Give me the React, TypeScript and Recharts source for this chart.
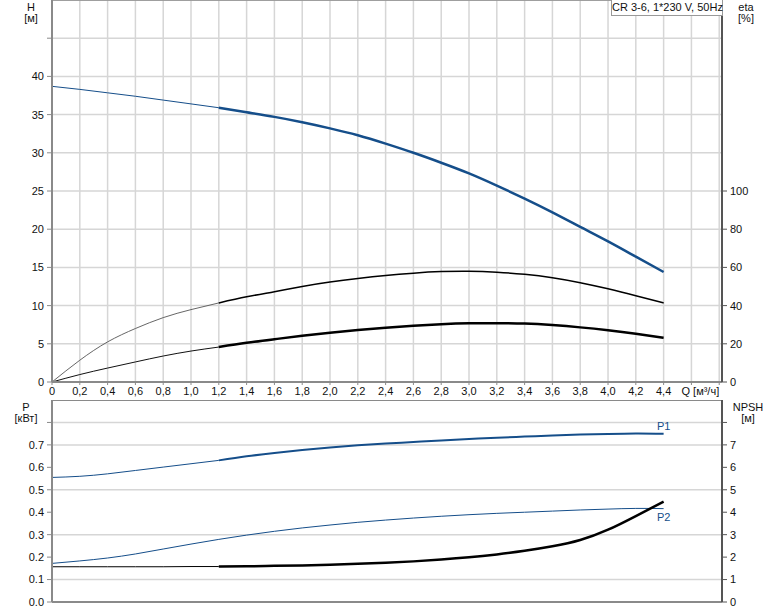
import { LineChart, Line, XAxis, YAxis, CartesianGrid, ReferenceLine } from 'recharts';

// flow rate, m³/h
const Q = [0, 0.2, 0.4, 0.6, 0.8, 1.0, 1.2, 1.4, 1.6, 1.8, 2.0, 2.2, 2.4, 2.6, 2.8, 3.0, 3.2, 3.4, 3.6, 3.8, 4.0, 4.2, 4.4];

// head, m
const HEAD = [38.7, 38.3, 37.85, 37.4, 36.9, 36.4, 35.9, 35.3, 34.7, 34.0, 33.2, 32.3, 31.2, 30.0, 28.7, 27.3, 25.7, 24.0, 22.2, 20.3, 18.4, 16.4, 14.4];

// efficiency, %
const ETA_PUMP = [0, 11.4, 21, 28, 33.7, 37.9, 41.4, 44.6, 47.3, 50.0, 52.3, 54.2, 55.8, 57.0, 57.8, 58.0, 57.5, 56.4, 54.6, 52.0, 48.8, 45.2, 41.4];
const ETA_TOTAL = [0, 3.9, 7.3, 10.5, 13.6, 16.2, 18.3, 20.5, 22.4, 24.2, 25.8, 27.2, 28.4, 29.4, 30.2, 30.7, 30.8, 30.6, 29.8, 28.6, 27.1, 25.3, 23.2];

// power, kW
const P1 = [0.555, 0.56, 0.571, 0.586, 0.601, 0.616, 0.631, 0.649, 0.664, 0.677, 0.688, 0.698, 0.706, 0.713, 0.72, 0.726, 0.732, 0.737, 0.742, 0.746, 0.749, 0.751, 0.75];
const P2 = [0.172, 0.183, 0.196, 0.214, 0.236, 0.258, 0.279, 0.298, 0.315, 0.33, 0.343, 0.355, 0.365, 0.374, 0.382, 0.389, 0.395, 0.4, 0.405, 0.41, 0.414, 0.417, 0.416];

// NPSH, m
const NPSH = [1.57, 1.57, 1.57, 1.57, 1.57, 1.58, 1.58, 1.59, 1.61, 1.63, 1.66, 1.7, 1.75, 1.81, 1.89, 1.99, 2.12, 2.28, 2.48, 2.76, 3.22, 3.83, 4.47];

const Q_TICKS = [0, 0.2, 0.4, 0.6, 0.8, 1.0, 1.2, 1.4, 1.6, 1.8, 2.0, 2.2, 2.4, 2.6, 2.8, 3.0, 3.2, 3.4, 3.6, 3.8, 4.0, 4.2, 4.4, 4.6, 4.8];
const H_TICKS = [0, 5, 10, 15, 20, 25, 30, 35, 40, 45];
const ETA_TICKS = [0, 20, 40, 60, 80, 100];
const P_TICKS = [0, 0.1, 0.2, 0.3, 0.4, 0.5, 0.6, 0.7, 0.8];
const NPSH_TICKS = [0, 1, 2, 3, 4, 5, 6, 7, 8];

const SPLIT_Q = 1.2; // duty range starts here, curves get thicker
const Q_MAX_LABEL = 4.4;

const rows = Q.map((q, i) => ({
  q,
  hLo: q <= SPLIT_Q ? HEAD[i] : null,
  hHi: q >= SPLIT_Q ? HEAD[i] : null,
  etaPLo: q <= SPLIT_Q ? ETA_PUMP[i] : null,
  etaPHi: q >= SPLIT_Q ? ETA_PUMP[i] : null,
  etaTLo: q <= SPLIT_Q ? ETA_TOTAL[i] : null,
  etaTHi: q >= SPLIT_Q ? ETA_TOTAL[i] : null,
  p1Lo: q <= SPLIT_Q ? P1[i] : null,
  p1Hi: q >= SPLIT_Q ? P1[i] : null,
  p2: P2[i],
  npshLo: q <= SPLIT_Q ? NPSH[i] : null,
  npshHi: q >= SPLIT_Q ? NPSH[i] : null,
}));

const FONT = '"Liberation Sans", Arial, sans-serif';
const BLUE = '#154e8a';
const GRID = '#d6d6d6';
const AXIS = '#8a8a8a';
const TICK = { fill: '#111', fontSize: 11, fontFamily: FONT };
const LAST = Q.length - 1;

function QTick(props: any) {
  const { x, y, payload } = props;
  const v = payload.value;
  if (v > Q_MAX_LABEL + 0.01) {
    if (v < 4.7) return <g />;
    return (
      <text x={x} y={y} dy="0.71em" textAnchor="end" {...TICK}>
        Q [м³/ч]
      </text>
    );
  }
  const label = v === 0 ? '0' : v.toFixed(1).replace('.', ',');
  return (
    <text x={x} y={y} dy="0.71em" textAnchor="middle" {...TICK}>
      {label}
    </text>
  );
}

const endLabel = (text: string, dy: number) => (props: any) => {
  if (props.index !== LAST) return null;
  return (
    <text x={props.x} y={props.y + dy} textAnchor="middle" fill={BLUE} fontSize={11} fontFamily={FONT}>
      {text}
    </text>
  );
};

const title = (left: number, top: number, lines: string[]) => (
  <div
    style={{
      position: 'absolute',
      left,
      top,
      width: 40,
      textAlign: 'center',
      fontFamily: FONT,
      fontSize: 11,
      lineHeight: '11px',
      color: '#111',
    }}
  >
    {lines.map((l) => (
      <div key={l}>{l}</div>
    ))}
  </div>
);

export default function App() {
  return (
    <div style={{ position: 'absolute', left: 0, top: 0, width: 774, height: 611, background: '#fff' }}>
      <div style={{ position: 'absolute', left: 0, top: 0 }}>
        <LineChart width={774} height={402} data={rows} margin={{ top: 0, right: 0, bottom: 0, left: 0 }}>
          <CartesianGrid stroke={GRID} strokeWidth={1.5} yAxisId="h" />
          <XAxis
            dataKey="q"
            type="number"
            domain={[0, 4.82]}
            ticks={Q_TICKS}
            height={20}
            tickSize={3}
            tickMargin={2}
            tick={<QTick />}
            axisLine={{ stroke: AXIS, strokeWidth: 2 }}
            tickLine={{ stroke: AXIS }}
          />
          <YAxis
            yAxisId="h"
            domain={[0, 50]}
            ticks={H_TICKS}
            width={52}
            tickSize={5}
            tickMargin={3}
            tick={TICK}
            tickFormatter={(v: number) => (v > 40 ? '' : String(v))}
            axisLine={{ stroke: AXIS, strokeWidth: 2 }}
            tickLine={{ stroke: AXIS }}
          />
          <YAxis
            yAxisId="eta"
            orientation="right"
            domain={[0, 200]}
            ticks={ETA_TICKS}
            width={52}
            tickSize={5}
            tickMargin={3}
            tick={{ ...TICK, textAnchor: 'start' }}
            axisLine={{ stroke: '#555', strokeWidth: 2 }}
            tickLine={{ stroke: '#555' }}
          />
          <ReferenceLine yAxisId="h" y={50} stroke={AXIS} strokeWidth={1.5} />
          <Line yAxisId="h" dataKey="hLo" type="natural" stroke={BLUE} strokeWidth={1} dot={false} isAnimationActive={false} />
          <Line yAxisId="h" dataKey="hHi" type="natural" stroke={BLUE} strokeWidth={2.5} dot={false} isAnimationActive={false} />
          <Line yAxisId="eta" dataKey="etaPLo" type="natural" stroke="#555" strokeWidth={0.9} dot={false} isAnimationActive={false} />
          <Line yAxisId="eta" dataKey="etaPHi" type="natural" stroke="#000" strokeWidth={1.5} dot={false} isAnimationActive={false} />
          <Line yAxisId="eta" dataKey="etaTLo" type="natural" stroke="#111" strokeWidth={1} dot={false} isAnimationActive={false} />
          <Line yAxisId="eta" dataKey="etaTHi" type="natural" stroke="#000" strokeWidth={2.5} dot={false} isAnimationActive={false} />
        </LineChart>
      </div>

      <div style={{ position: 'absolute', left: 0, top: 400 }}>
        <LineChart width={774} height={211} data={rows} margin={{ top: 0, right: 0, bottom: 0, left: 0 }}>
          <CartesianGrid stroke={GRID} strokeWidth={1.5} yAxisId="p" />
          <XAxis
            dataKey="q"
            type="number"
            domain={[0, 4.82]}
            ticks={Q_TICKS}
            height={9}
            tickSize={3}
            tick={false}
            axisLine={{ stroke: AXIS, strokeWidth: 2 }}
            tickLine={{ stroke: AXIS }}
          />
          <YAxis
            yAxisId="p"
            domain={[0, 0.9]}
            ticks={P_TICKS}
            width={52}
            tickSize={5}
            tickMargin={3}
            tick={TICK}
            tickFormatter={(v: number) => (v > 0.75 ? '' : v.toFixed(1))}
            axisLine={{ stroke: AXIS, strokeWidth: 2 }}
            tickLine={{ stroke: AXIS }}
          />
          <YAxis
            yAxisId="npsh"
            orientation="right"
            domain={[0, 9]}
            ticks={NPSH_TICKS}
            width={52}
            tickSize={5}
            tickMargin={3}
            tick={{ ...TICK, textAnchor: 'start' }}
            tickFormatter={(v: number) => (v > 7 ? '' : String(v))}
            axisLine={{ stroke: '#555', strokeWidth: 2 }}
            tickLine={{ stroke: '#555' }}
          />
          <ReferenceLine yAxisId="p" y={0.9} stroke={AXIS} strokeWidth={2} />
          <Line yAxisId="p" dataKey="p1Lo" type="natural" stroke={BLUE} strokeWidth={1} dot={false} isAnimationActive={false} />
          <Line
            yAxisId="p"
            dataKey="p1Hi"
            type="natural"
            stroke={BLUE}
            strokeWidth={2}
            dot={false}
            isAnimationActive={false}
            label={endLabel('P1', -4)}
          />
          <Line
            yAxisId="p"
            dataKey="p2"
            type="natural"
            stroke={BLUE}
            strokeWidth={1}
            dot={false}
            isAnimationActive={false}
            label={endLabel('P2', 12)}
          />
          <Line yAxisId="npsh" dataKey="npshLo" type="natural" stroke="#000" strokeWidth={1} dot={false} isAnimationActive={false} />
          <Line yAxisId="npsh" dataKey="npshHi" type="natural" stroke="#000" strokeWidth={2.5} dot={false} isAnimationActive={false} />
        </LineChart>
      </div>

      {title(11, 2, ['H', '[м]'])}
      {title(726, 2, ['eta', '[%]'])}
      {title(6, 402, ['P', '[кВт]'])}
      {title(728, 402, ['NPSH', '[м]'])}

      <div
        style={{
          position: 'absolute',
          left: 611,
          top: 0,
          width: 110,
          height: 15,
          border: '1px solid #999',
          borderTop: 'none',
          background: '#fff',
          fontFamily: FONT,
          fontSize: 11,
          lineHeight: '15px',
          textAlign: 'center',
          color: '#111',
          whiteSpace: 'nowrap',
        }}
      >
        CR 3-6, 1*230 V, 50Hz
      </div>
    </div>
  );
}
